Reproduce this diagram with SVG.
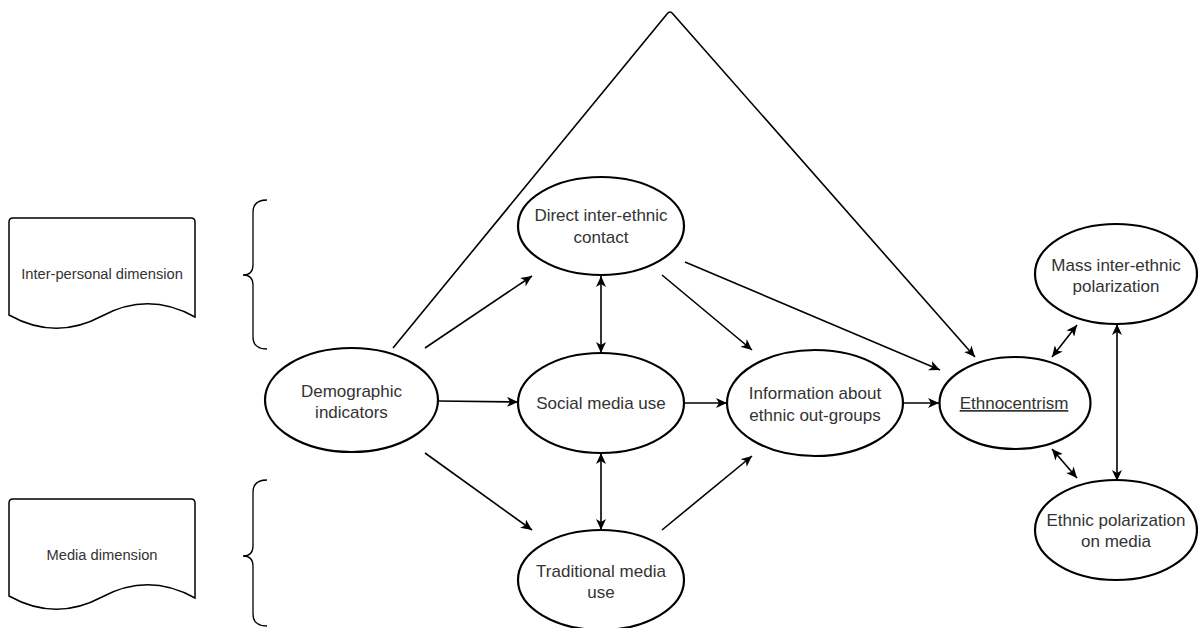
<svg xmlns="http://www.w3.org/2000/svg" width="1198" height="628" viewBox="0 0 1198 628">
<defs>
<marker id="arr" markerUnits="userSpaceOnUse" markerWidth="12" markerHeight="10" refX="11" refY="5" orient="auto-start-reverse" viewBox="0 0 12 10">
<path d="M0,0 L11,5 L0,10 L3,5 Z" fill="#000"/>
</marker>
</defs>
<style>
.node{fill:#fff;stroke:#000;stroke-width:2.2}
.doc{fill:#fff;stroke:#000;stroke-width:1.5}
.t{font-family:"Liberation Sans",Arial,sans-serif;font-size:17px;fill:#333;text-anchor:middle}
.td{font-family:"Liberation Sans",Arial,sans-serif;font-size:14.7px;fill:#333;text-anchor:middle}
.c{fill:none;stroke:#000;stroke-width:1.6}
.br{fill:none;stroke:#000;stroke-width:1.3}
</style>
<rect width="1198" height="628" fill="#fff"/>

<g id="doc-interpersonal">
<path class="doc" d="M9,222 Q9,218 13,218 L191,218 Q195,218 195,222 L195,317 Q148.5,291 102,316 T9,315 Z"/>
<text class="td" x="102" y="279">Inter-personal dimension</text>
</g>
<g id="doc-media">
<path class="doc" d="M9,503 Q9,499 13,499 L191,499 Q195,499 195,503 L195,598 Q148.5,572 102,597 T9,596 Z"/>
<text class="td" x="102" y="560">Media dimension</text>
</g>
<g id="brace-interpersonal">
<path class="br" d="M267,200 Q253,200 253,212 L253,265 Q253,275 243,275 Q253,275 253,285 L253,337 Q253,349 267,349"/>
</g>
<g id="brace-media">
<path class="br" d="M267,480 Q253,480 253,492 L253,546 Q253,556 243,556 Q253,556 253,566 L253,614 Q253,626 267,626"/>
</g>

<g id="connectors">
<path class="c" d="M393,348 L667,14 Q670,10 673,14 L975,357" marker-end="url(#arr)"/>
<line class="c" x1="425" y1="348" x2="532" y2="276" marker-end="url(#arr)"/>
<line class="c" x1="438" y1="401" x2="518" y2="402" marker-end="url(#arr)"/>
<line class="c" x1="425" y1="453" x2="532" y2="530" marker-end="url(#arr)"/>
<line class="c" x1="601" y1="276" x2="601" y2="353" marker-start="url(#arr)" marker-end="url(#arr)"/>
<line class="c" x1="601" y1="453" x2="601" y2="530" marker-start="url(#arr)" marker-end="url(#arr)"/>
<line class="c" x1="662" y1="275" x2="752" y2="350" marker-end="url(#arr)"/>
<line class="c" x1="685" y1="262" x2="940" y2="370" marker-end="url(#arr)"/>
<line class="c" x1="685" y1="403" x2="727" y2="403" marker-end="url(#arr)"/>
<line class="c" x1="662" y1="530" x2="752" y2="456" marker-end="url(#arr)"/>
<line class="c" x1="903" y1="403" x2="939" y2="403" marker-end="url(#arr)"/>
<line class="c" x1="1052" y1="357" x2="1077" y2="325" marker-start="url(#arr)" marker-end="url(#arr)"/>
<line class="c" x1="1052" y1="449" x2="1077" y2="478" marker-start="url(#arr)" marker-end="url(#arr)"/>
<line class="c" x1="1117" y1="324" x2="1117" y2="481" marker-start="url(#arr)" marker-end="url(#arr)"/>
</g>

<g id="demographic">
<ellipse class="node" cx="351.5" cy="400" rx="86.5" ry="52"/>
<text class="t" x="351.5" y="397">Demographic</text>
<text class="t" x="351.5" y="418">indicators</text>
</g>
<g id="direct">
<ellipse class="node" cx="601" cy="226" rx="83" ry="49"/>
<text class="t" x="601" y="221">Direct inter-ethnic</text>
<text class="t" x="601" y="243">contact</text>
</g>
<g id="social">
<ellipse class="node" cx="601" cy="403" rx="83" ry="50"/>
<text class="t" x="601" y="409">Social media use</text>
</g>
<g id="traditional">
<ellipse class="node" cx="601" cy="580" rx="83" ry="50"/>
<text class="t" x="601" y="577">Traditional media</text>
<text class="t" x="601" y="598">use</text>
</g>
<g id="information">
<ellipse class="node" cx="815" cy="403" rx="88" ry="53"/>
<text class="t" x="815" y="399">Information about</text>
<text class="t" x="815" y="421">ethnic out-groups</text>
</g>
<g id="ethnocentrism">
<ellipse class="node" cx="1015" cy="403" rx="75.5" ry="46"/>
<text class="t" x="1014" y="409" text-decoration="underline">Ethnocentrism</text>
</g>
<g id="mass">
<ellipse class="node" cx="1116" cy="274" rx="81" ry="50"/>
<text class="t" x="1116" y="271">Mass inter-ethnic</text>
<text class="t" x="1116" y="292">polarization</text>
</g>
<g id="media-polarization">
<ellipse class="node" cx="1116" cy="530" rx="81" ry="50"/>
<text class="t" x="1116" y="526">Ethnic polarization</text>
<text class="t" x="1116" y="547">on media</text>
</g>
</svg>
